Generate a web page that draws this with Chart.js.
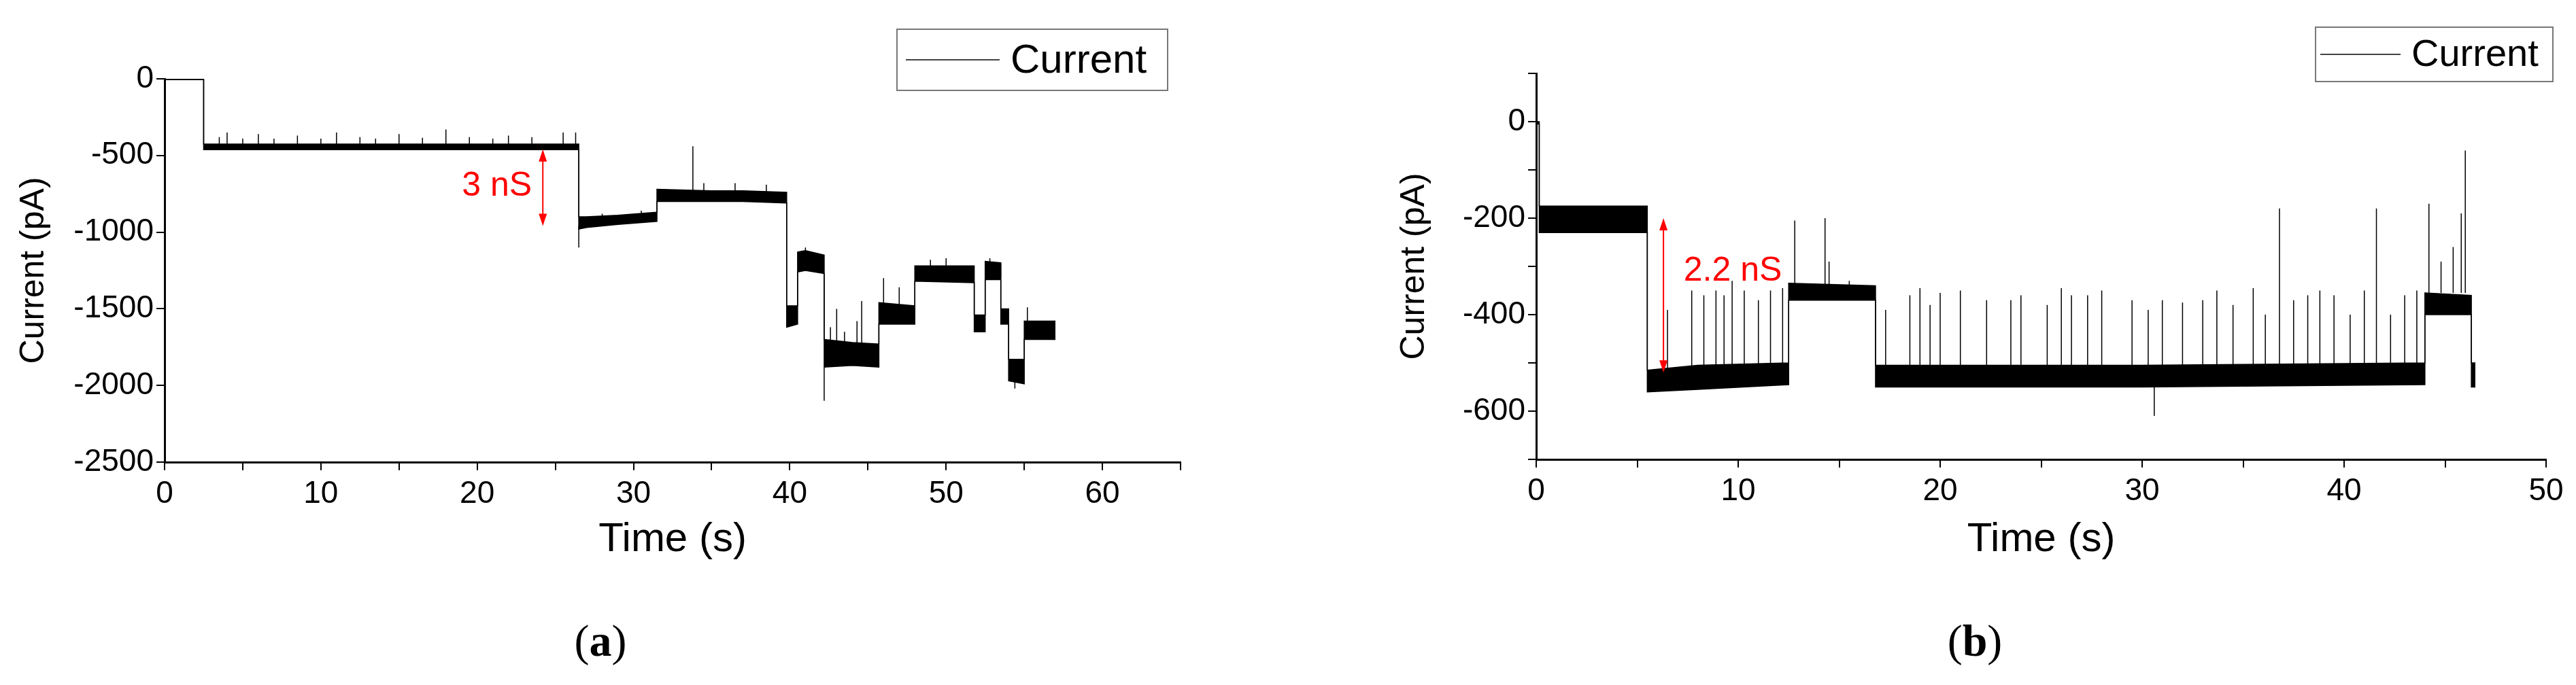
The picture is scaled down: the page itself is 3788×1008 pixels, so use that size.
<!DOCTYPE html>
<html>
<head>
<meta charset="utf-8">
<script src="https://cdn.jsdelivr.net/npm/chart.js@4.4.0/dist/chart.umd.min.js"></script>
<style>
  body { margin: 0; background: #fff; width: 3788px; height: 1008px; position: relative; overflow: hidden; }
  .box { position: absolute; top: 0; }
  .cap { position: absolute; top: 905px; font-family: "Liberation Serif", serif; font-size: 66px; transform: translateX(-50%); }
</style>
</head>
<body>
<div class="box" style="left:0;width:1780px;height:830px"><canvas id="chartA"></canvas></div>
<div class="box" style="left:1950px;width:1838px;height:830px"><canvas id="chartB"></canvas></div>
<div class="cap" style="left:883px">(<b>a</b>)</div>
<div class="cap" style="left:2904px">(<b>b</b>)</div>
<script>
// panel (a): noise band envelope
const aTime  = [0, 2.5, 2.5, 26.5, 26.5, 27, 29, 31.5, 31.5, 35, 37, 39.8, 39.8, 40.5, 40.5, 41, 42.2, 42.2, 44, 45.7, 45.7, 48, 48, 51.8, 51.8, 52.5, 52.5, 53.5, 53.5, 54, 54, 55, 55, 57];
const aUpper = [5, 5, -425, -425, -900, -900, -890, -870, -720, -730, -730, -740, -1480, -1480, -1130, -1120, -1150, -1700, -1720, -1730, -1460, -1480, -1220, -1220, -1540, -1540, -1190, -1200, -1500, -1500, -1830, -1830, -1580, -1580];
const aLower = [-5, -5, -462, -462, -980, -970, -950, -930, -800, -800, -800, -810, -1620, -1600, -1260, -1250, -1270, -1880, -1870, -1880, -1600, -1600, -1320, -1330, -1650, -1650, -1310, -1310, -1600, -1600, -1970, -1990, -1700, -1700];
// panel (a): spikes
const aSpikeT    = [3.5, 4, 5, 6, 7, 8.5, 10, 11, 12.5, 13.5, 15, 16.5, 18, 19.5, 21, 22, 23.5, 25.5, 26.3, 26.5, 28, 30.5, 33.8, 34.5, 36.5, 38.5, 41, 42.2, 42.6, 43, 43.5, 44.3, 44.6, 46, 47, 49, 50, 52.8, 53.5, 54.4, 55.2];
const aSpikeTop  = [-380, -350, -390, -360, -390, -370, -390, -350, -380, -390, -360, -385, -330, -380, -390, -370, -380, -350, -350, -1100, -880, -860, -440, -680, -680, -690, -1100, -2100, -1620, -1500, -1650, -1580, -1450, -1300, -1360, -1180, -1170, -1170, -1200, -2020, -1490];
const aSpikeBase = [-440, -440, -440, -440, -440, -440, -440, -440, -440, -440, -440, -440, -440, -440, -440, -440, -440, -440, -440, -960, -930, -900, -730, -730, -730, -740, -1150, -1880, -1720, -1720, -1720, -1720, -1720, -1480, -1480, -1230, -1230, -1200, -1300, -1970, -1580];

// panel (b): noise band envelope
const bTime  = [0, 0.15, 0.15, 5.5, 5.5, 8, 12.5, 12.5, 16.8, 16.8, 30, 44, 44, 46.3, 46.3, 46.5];
const bUpper = [0, 0, -175, -175, -515, -505, -500, -335, -340, -505, -505, -500, -355, -360, -500, -500];
const bLower = [-5, -5, -230, -230, -560, -555, -545, -370, -370, -550, -550, -545, -400, -400, -550, -550];
// panel (b): spikes
const bSpikeT    = [6.5, 7.7, 8.3, 8.9, 9.3, 9.7, 10.3, 11, 11.6, 12.2, 12.8, 14.3, 14.5, 15.5,
  17.3, 18.5, 19, 19.5, 20, 21, 22.3, 23.5, 24, 25.3, 26, 26.5, 27.3, 28, 29.5, 30.3, 30.6, 31, 32, 33, 33.7, 34.5, 35.5, 36.1, 36.8, 37.5, 38.2, 38.8, 39.5, 40.3, 41, 41.6, 42.3, 43, 43.6,
  44.2, 44.8, 45.4, 45.8, 46];
const bSpikeTop  = [-390, -350, -360, -350, -360, -330, -350, -370, -350, -345, -205, -200, -290, -330,
  -390, -360, -345, -380, -355, -350, -370, -370, -360, -380, -345, -360, -360, -350, -370, -390, -610, -370, -375, -370, -350, -380, -345, -400, -180, -370, -360, -350, -360, -400, -350, -180, -400, -360, -350,
  -170, -290, -260, -190, -60];
const bSpikeBase = [-520, -520, -520, -520, -520, -520, -520, -520, -520, -520, -340, -340, -340, -340,
  -505, -505, -505, -505, -505, -505, -505, -505, -505, -505, -505, -505, -505, -505, -505, -505, -550, -505, -505, -505, -505, -505, -505, -505, -505, -505, -505, -505, -505, -505, -505, -505, -505, -505, -505,
  -355, -355, -355, -355, -355];

function pts(xs, ys) { return xs.map((x, i) => ({ x: x, y: ys[i] })); }
function spikes(ts, tops, bases) {
  var out = [];
  for (var i = 0; i < ts.length; i++) {
    out.push({ x: ts[i], y: bases[i] }, { x: ts[i], y: tops[i] }, { x: ts[i], y: null });
  }
  return out;
}

const FONT = "'Liberation Sans', Arial, sans-serif";

function legendPlugin(box) {
  return {
    id: 'legendBox',
    afterDraw(chart) {
      var c = chart.ctx;
      c.save();
      c.strokeStyle = '#777'; c.lineWidth = 2;
      c.strokeRect(box.x, box.y, box.w, box.h);
      c.strokeStyle = '#444'; c.lineWidth = 2;
      c.beginPath(); c.moveTo(box.lx1, box.y + box.h / 2); c.lineTo(box.lx2, box.y + box.h / 2); c.stroke();
      c.fillStyle = '#000'; c.font = box.fs + 'px ' + FONT; c.textBaseline = 'middle';
      c.fillText('Current', box.lx2 + 16, box.y + box.h / 2 + 2);
      c.restore();
    }
  };
}

function arrowPlugin(a) {
  return {
    id: 'arrowNote',
    afterDatasetsDraw(chart) {
      var c = chart.ctx, xs = chart.scales.x, ys = chart.scales.y;
      var x = xs.getPixelForValue(a.t), y1 = ys.getPixelForValue(a.from), y2 = ys.getPixelForValue(a.to);
      c.save();
      c.strokeStyle = '#ff0000'; c.fillStyle = '#ff0000'; c.lineWidth = 2;
      c.beginPath(); c.moveTo(x, y1 + 10); c.lineTo(x, y2 - 10); c.stroke();
      c.beginPath(); c.moveTo(x, y1); c.lineTo(x - 6, y1 + 18); c.lineTo(x + 6, y1 + 18); c.fill();
      c.beginPath(); c.moveTo(x, y2); c.lineTo(x - 6, y2 - 18); c.lineTo(x + 6, y2 - 18); c.fill();
      c.font = '50px ' + FONT; c.textBaseline = 'middle'; c.textAlign = a.align;
      c.fillText(a.text, xs.getPixelForValue(a.tx), ys.getPixelForValue(a.ty));
      c.restore();
    }
  };
}

function makeChart(id, cfg) {
  return new Chart(document.getElementById(id), {
    type: 'line',
    data: {
      datasets: [
        { data: pts(cfg.time, cfg.upper), borderColor: '#000', borderWidth: 1.5, backgroundColor: '#000', fill: '+1', pointRadius: 0, tension: 0 },
        { data: pts(cfg.time, cfg.lower), borderColor: '#000', borderWidth: 1.5, fill: false, pointRadius: 0, tension: 0 },
        { data: spikes(cfg.st, cfg.stop, cfg.sbase), borderColor: '#000', borderWidth: 1.5, fill: false, pointRadius: 0, spanGaps: false }
      ]
    },
    options: {
      responsive: true, maintainAspectRatio: false, animation: false, devicePixelRatio: 1,
      layout: { padding: { top: cfg.top, left: cfg.padLeft, right: cfg.padRight, bottom: 0 } },
      plugins: { legend: { display: false }, tooltip: { enabled: false } },
      scales: {
        x: {
          type: 'linear', min: 0, max: cfg.xMax,
          border: { color: '#000', width: 3 },
          grid: { drawOnChartArea: false, color: '#000', lineWidth: 2, tickLength: 12 },
          ticks: { stepSize: 5, color: '#000', padding: 8, font: { family: FONT, size: 46 }, maxRotation: 0,
            callback: v => (v % 10 === 0 ? v : '') },
          title: { display: true, text: 'Time (s)', color: '#000', font: { family: FONT, size: 60 }, padding: 0 },
          afterFit: s => { s.height = cfg.xH; }
        },
        y: {
          min: cfg.yMin, max: cfg.yMax,
          border: { color: '#000', width: 3 },
          grid: { drawOnChartArea: false, color: '#000', lineWidth: 2, tickLength: 12 },
          ticks: { stepSize: cfg.yStep / 2, color: '#000', padding: 4, font: { family: FONT, size: 46 },
            callback: v => (v % cfg.yStep === 0 ? v : '') },
          title: { display: true, text: 'Current (pA)', color: '#000', font: { family: FONT, size: 50 }, padding: 0 },
          afterFit: s => { s.width = cfg.yW; }
        }
      }
    },
    plugins: [legendPlugin(cfg.legend), arrowPlugin(cfg.arrow)]
  });
}

makeChart('chartA', {
  time: aTime, upper: aUpper, lower: aLower, st: aSpikeT, stop: aSpikeTop, sbase: aSpikeBase,
  xMax: 65, yMin: -2500, yMax: 0, yStep: 500,
  top: 116, padLeft: 20, padRight: 44, yW: 222, xH: 150,
  legend: { x: 1319, y: 43, w: 398, h: 90, lx1: 1332, lx2: 1470, fs: 60 },
  arrow: { t: 24.2, from: -460, to: -960, text: '3 nS', tx: 23.5, ty: -700, align: 'right' }
});

makeChart('chartB', {
  time: bTime, upper: bUpper, lower: bLower, st: bSpikeT, stop: bSpikeTop, sbase: bSpikeBase,
  xMax: 50, yMin: -700, yMax: 100, yStep: 200,
  top: 108, padLeft: 100, padRight: 44, yW: 209, xH: 154,
  legend: { x: 1455, y: 40, w: 349, h: 80, lx1: 1462, lx2: 1580, fs: 56 },
  arrow: { t: 6.3, from: -200, to: -520, text: '2.2 nS', tx: 7.3, ty: -310, align: 'left' }
});
</script>
</body>
</html>
